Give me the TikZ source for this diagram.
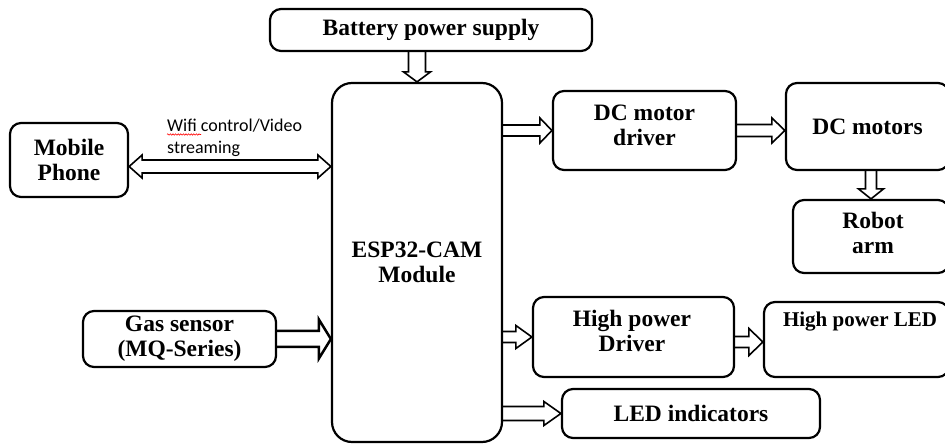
\documentclass[tikz,border=0pt]{standalone}
\usepackage{fontspec}
\setmainfont{Liberation Serif}
\newfontfamily\calfont{Carlito}
\usetikzlibrary{calc,decorations.pathmorphing}
% right-pointing hollow block arrow: [style]{start}{tip}{shaft half}{head half}{head length}
\newcommand\RArrowX[6][]{\draw[harrow,#1] let \p1=(#2), \p2=(#3) in
  (\x1,\y1+#4) -- (\x2-#6,\y1+#4) -- (\x2-#6,\y1+#5) -- (\x2,\y1) --
  (\x2-#6,\y1-#5) -- (\x2-#6,\y1-#4) -- (\x1,\y1-#4);}
% downward hollow block arrow
\newcommand\DArrowX[6][]{\draw[harrow,#1] let \p1=(#2), \p2=(#3) in
  (\x1+#4,\y1) -- (\x1+#4,\y2+#6) -- (\x1+#5,\y2+#6) -- (\x1,\y2) --
  (\x1-#5,\y2+#6) -- (\x1-#4,\y2+#6) -- (\x1-#4,\y1);}
% double-headed hollow block arrow
\newcommand\BArrowX[6][]{\draw[harrow,#1] let \p1=(#2), \p2=(#3) in
  (\x1,\y1) -- (\x1+#6,\y1+#5) -- (\x1+#6,\y1+#4) -- (\x2-#6,\y1+#4) --
  (\x2-#6,\y1+#5) -- (\x2,\y1) -- (\x2-#6,\y1-#5) -- (\x2-#6,\y1-#4) --
  (\x1+#6,\y1-#4) -- (\x1+#6,\y1-#5) -- cycle;}
\begin{document}
\begin{tikzpicture}[x=1bp,y=-1bp,
  box/.style={draw, line width=2.2bp, rounded corners=11bp, inner sep=0pt,
    font=\bfseries\fontsize{23.5bp}{25bp}\selectfont, align=center},
  lbl/.style={inner sep=0pt, font=\bfseries\fontsize{23.5bp}{25bp}\selectfont, align=center},
  harrow/.style={draw, line width=1.6bp, line join=miter}]
\useasboundingbox (0,0) rectangle (945,444);

% boxes
\node[box, minimum width=322bp, minimum height=42bp] (bat) at (431,30) {Battery power supply};
\node[box, minimum width=118bp, minimum height=74bp] (mob) at (69,160) {Mobile\\Phone};
\node[box, minimum width=193bp, minimum height=56bp] (gas) at (179.5,339) {Gas sensor\\(MQ-Series)};
\node[box, rounded corners=20bp, minimum width=170bp, minimum height=359bp] (esp) at (417,262.5) {ESP32-CAM\\Module};
\node[box, minimum width=183bp, minimum height=79bp] (drv) at (644.5,130.5) {};
\node[lbl] (drvT) at (644.5,125) {DC motor\\driver};
\node[box, minimum width=163bp, minimum height=87bp] (mot) at (867.5,126.5) {DC motors};
\node[box, minimum width=156bp, minimum height=73bp] (arm) at (871,236.5) {};
\node[lbl] (armT) at (873,233) {Robot\\arm};
\node[box, minimum width=201bp, minimum height=80bp] (hpd) at (633.5,337) {};
\node[lbl] (hpdT) at (632,331) {High power\\Driver};
\node[box, minimum width=185bp, minimum height=75bp] (hpl) at (856.5,339.5) {};
\node[lbl, font=\bfseries\fontsize{21bp}{25bp}\selectfont] (hplT) at (860,322) {High power LED};
\node[box, minimum width=258bp, minimum height=49bp] (led) at (691,413.5) {LED indicators};

% wifi label
\node[inner sep=0pt, anchor=north west, align=left,
  font=\calfont\fontsize{18bp}{22bp}\selectfont] (wifi) at (167,119) {Wifi control/Video\\streaming};
\coordinate (sq1) at (167,134.5);
\coordinate (sq2) at (201,134.5);
\draw[red, line width=0.6bp, decorate, decoration={snake, amplitude=0.7bp, segment length=2.6bp}] (sq1) -- (sq2);

% arrows
\coordinate (m1) at ([yshift=-6.5bp]mob.east);
\BArrowX{m1}{esp.west |- m1}{6.5bp}{11.5bp}{13bp}
\RArrowX[line width=2.5bp]{gas.east}{esp.west |- gas.east}{8bp}{19.5bp}{12bp}
\DArrowX{bat.south -| esp.north}{esp.north}{8.5bp}{13.5bp}{10bp}
\RArrowX{esp.east |- drv.west}{drv.west}{5.5bp}{12.5bp}{12bp}
\RArrowX{drv.east}{mot.west |- drv.east}{6bp}{12.5bp}{13bp}
\DArrowX{mot.south -| arm.north}{arm.north}{5.5bp}{12.5bp}{10bp}
\RArrowX{esp.east |- hpd.west}{hpd.west}{5.5bp}{11.5bp}{16bp}
\coordinate (h1) at ([yshift=-5bp]hpd.east);
\RArrowX{h1}{hpl.west |- h1}{5.5bp}{13.5bp}{14bp}
\RArrowX{esp.east |- led.west}{led.west}{7bp}{12bp}{17bp}
\end{tikzpicture}
\end{document}
